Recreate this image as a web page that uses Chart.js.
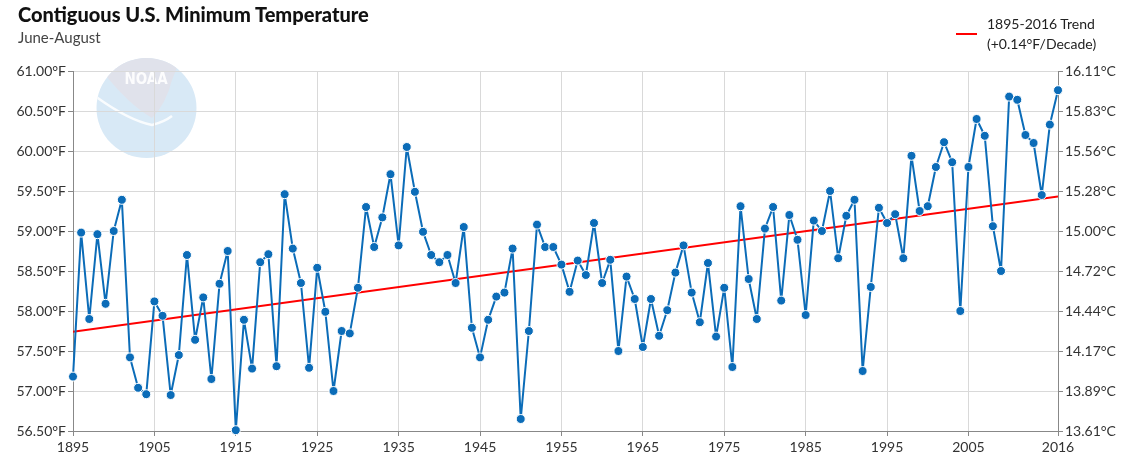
<!DOCTYPE html>
<html>
<head>
<meta charset="utf-8">
<script src="https://cdn.jsdelivr.net/npm/chart.js@4/dist/chart.umd.min.js"></script>
<style>
  body { margin: 0; background: #fff; font-family: Lato, "Open Sans", sans-serif; }
  #wrap { position: relative; width: 1127px; height: 474px; }
  #title { position: absolute; left: 18px; top: 2px; font-size: 20px; font-weight: 900; color: #111; }
  #subtitle { position: absolute; left: 18px; top: 28px; font-size: 15px; color: #444; }
  #legend { position: absolute; left: 956px; top: 14px; font-size: 14px; color: #222; line-height: 20px; }
  #legend .swatch { position: absolute; left: 0; top: 19px; width: 21px; height: 2px; background: #ff0000; }
  #legend .text { margin-left: 31px; }
</style>
</head>
<body>
<div id="wrap">
  <canvas id="chart" width="1127" height="474"></canvas>
  <div id="title">Contiguous U.S. Minimum Temperature</div>
  <div id="subtitle">June-August</div>
  <div id="legend"><div class="swatch"></div><div class="text">1895-2016 Trend<br>(+0.14°F/Decade)</div></div>
</div>
<script>
// years on the x axis
const firstYear = 1895;
const lastYear = 2016;
const yearTicks = [1895, 1905, 1915, 1925, 1935, 1945, 1955, 1965, 1975, 1985, 1995, 2005, 2016];

// June-August minimum temperature, degrees F, one per year 1895-2016
const minTemp = [
  57.18, 58.98, 57.90, 58.96, 58.09, 59.00, 59.39, 57.42, 57.04, 56.96,
  58.12, 57.94, 56.95, 57.45, 58.70, 57.64, 58.17, 57.15, 58.34, 58.75,
  56.51, 57.89, 57.28, 58.61, 58.71, 57.31, 59.46, 58.78, 58.35, 57.29,
  58.54, 57.99, 57.00, 57.75, 57.72, 58.29, 59.30, 58.80, 59.17, 59.71,
  58.82, 60.05, 59.49, 58.99, 58.70, 58.61, 58.70, 58.35, 59.05, 57.79,
  57.42, 57.89, 58.18, 58.23, 58.78, 56.65, 57.75, 59.08, 58.80, 58.80,
  58.58, 58.24, 58.63, 58.45, 59.10, 58.35, 58.64, 57.50, 58.43, 58.15,
  57.55, 58.15, 57.69, 58.01, 58.48, 58.82, 58.23, 57.86, 58.60, 57.68,
  58.29, 57.30, 59.31, 58.40, 57.90, 59.03, 59.30, 58.13, 59.20, 58.89,
  57.95, 59.13, 59.00, 59.50, 58.66, 59.19, 59.39, 57.25, 58.30, 59.29,
  59.10, 59.21, 58.66, 59.94, 59.25, 59.31, 59.80, 60.11, 59.86, 58.00,
  59.80, 60.40, 60.19, 59.06, 58.50, 60.68, 60.64, 60.20, 60.10, 59.45,
  60.33, 60.76
];

// trend line end points (1895 and 2016)
const trendYears = [1895, 2016];
const trendValues = [57.74, 59.43];

const yMin = 56.5, yMax = 61, yStep = 0.5;

let years = [];
for (let y = firstYear; y <= lastYear; y++) years.push(y);

const tempPoints = years.map((yr, i) => ({ x: yr, y: minTemp[i] }));
const trendPoints = trendYears.map((yr, i) => ({ x: yr, y: trendValues[i] }));

// faint NOAA logo behind the grid
const noaaLogo = {
  id: 'noaaLogo',
  beforeDraw(chart) {
    const ctx = chart.ctx;
    const cx = 146.5, cy = 108, r = 50;
    ctx.save();
    ctx.beginPath();
    ctx.arc(cx, cy, r, 0, Math.PI * 2);
    ctx.fillStyle = '#d8e9f6';
    ctx.fill();
    ctx.clip();
    // grey upper part (bird body)
    ctx.beginPath();
    ctx.moveTo(100, 50);
    ctx.lineTo(103, 72);
    ctx.quadraticCurveTo(128, 104, 152, 118);
    ctx.quadraticCurveTo(166, 104, 172, 80);
    ctx.lineTo(180, 60);
    ctx.lineTo(182, 50);
    ctx.closePath();
    ctx.fillStyle = '#e0e2eb';
    ctx.fill();
    // white wing
    ctx.beginPath();
    ctx.moveTo(95, 96);
    ctx.quadraticCurveTo(128, 120, 152, 125);
    ctx.quadraticCurveTo(164, 122, 172, 116);
    ctx.strokeStyle = 'rgba(255,255,255,0.85)';
    ctx.lineWidth = 2.5;
    ctx.stroke();
    ctx.fillStyle = 'rgba(255,255,255,0.9)';
    ctx.font = 'bold 15px "DejaVu Sans Condensed", sans-serif';
    ctx.textAlign = 'center';
    ctx.textBaseline = 'middle';
    ctx.fillText('NOAA', 146, 80);
    ctx.restore();
  }
};

const tickFont = { family: 'Lato, "Open Sans", sans-serif', size: 14 };

new Chart(document.getElementById('chart'), {
  type: 'line',
  data: {
    datasets: [
      {
        label: 'Minimum Temperature',
        data: tempPoints,
        borderColor: '#0b6cb8',
        backgroundColor: '#0b6cb8',
        borderWidth: 2,
        borderJoinStyle: 'round',
        pointRadius: 4.5,
        pointBorderColor: '#ffffff',
        pointBorderWidth: 1,
        pointBackgroundColor: '#0b6cb8',
        tension: 0,
        clip: false,
        order: 1,
        yAxisID: 'y'
      },
      {
        label: '1895-2016 Trend',
        data: trendPoints,
        borderColor: '#ff0000',
        borderWidth: 2,
        pointRadius: 0,
        tension: 0,
        order: 2,
        yAxisID: 'y'
      }
    ]
  },
  options: {
    responsive: false,
    animation: false,
    layout: { padding: { top: 71, left: 0, right: 0, bottom: 0 } },
    plugins: {
      legend: { display: false },
      tooltip: { enabled: false },
      title: { display: false }
    },
    scales: {
      x: {
        type: 'linear',
        min: firstYear,
        max: lastYear,
        afterBuildTicks: (scale) => { scale.ticks = yearTicks.map(v => ({ value: v })); },
        afterFit: (scale) => { scale.height = 43; },
        ticks: { color: '#333', font: tickFont, padding: 3, maxRotation: 0, autoSkip: false, callback: v => String(v) },
        grid: { color: '#d9d9d9', tickColor: '#888', tickLength: 5 },
        border: { color: '#888' }
      },
      y: {
        position: 'left',
        min: yMin,
        max: yMax,
        afterFit: (scale) => { scale.width = 73; },
        ticks: { stepSize: yStep, color: '#333', font: tickFont, padding: 2, callback: v => v.toFixed(2) + '°F' },
        grid: { color: '#d9d9d9', tickColor: '#888', tickLength: 5 },
        border: { color: '#888' }
      },
      yC: {
        position: 'right',
        min: yMin,
        max: yMax,
        afterFit: (scale) => { scale.width = 69; },
        ticks: { stepSize: yStep, color: '#333', font: tickFont, padding: 2, callback: v => ((v - 32) * 5 / 9).toFixed(2) + '°C' },
        grid: { drawOnChartArea: false, tickColor: '#888', tickLength: 5 },
        border: { color: '#888' }
      }
    }
  },
  plugins: [noaaLogo]
});
</script>
</body>
</html>
